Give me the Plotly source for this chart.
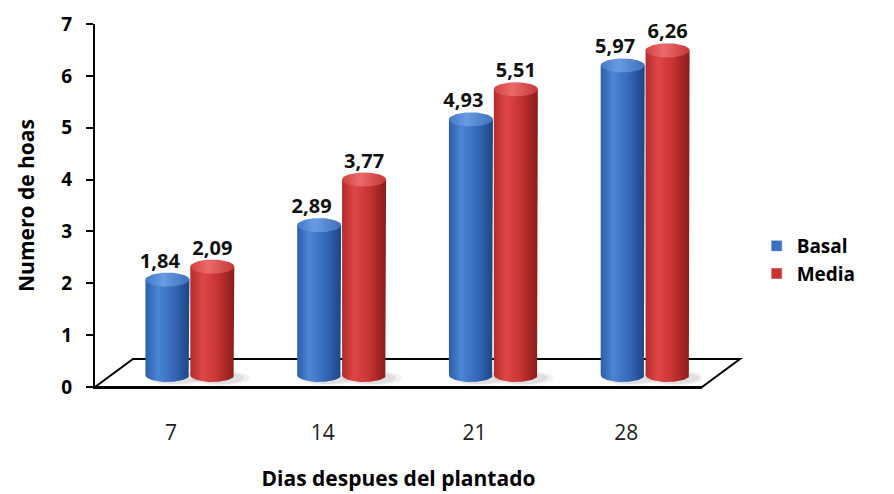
import numpy as np
import plotly.graph_objects as go

# Leaf count per sampling day, for two planting positions
dias = ["7", "14", "21", "28"]
basal = [1.84, 2.89, 4.93, 5.97]
media = [2.09, 3.77, 5.51, 6.26]

series = [
    ("Basal", basal, -1,
     [[0, "#2d5da9"], [0.28, "#4b86d6"], [0.6, "#386dbd"], [1, "#1d4584"]],
     [[0, "#4479c8"], [0.4, "#6a9ce2"], [1, "#3e70bd"]], "#3a6fc2"),
    ("Media", media, 1,
     [[0, "#b32b2b"], [0.28, "#df4747"], [0.6, "#c93434"], [1, "#8b1b1b"]],
     [[0, "#d44040"], [0.4, "#ec6a6a"], [1, "#c63838"]], "#c83333"),
]

FONT = "Open Sans"

# Page / plot-area geometry (pixels)
W, H = 894, 494
L, R, T, B = 95, 192, 24, 107
PW, PH = W - L - R, H - T - B
YMAX = 7
px_x = PW / len(dias)          # pixels per category unit
px_y = PH / YMAX               # pixels per value unit

# Cylinders sit at mid-depth of the floor: overlay axes shifted right/up
DX, DY = 19 / px_x, 12 / px_y
RX, RY = 22 / px_x, 7 / px_y   # cylinder half-width and ellipse half-height
GAP = 0.148                    # offset of each cylinder from the pair centre

fig = go.Figure()
t = np.linspace(0, 2 * np.pi, 73)
half = np.linspace(0, np.pi, 37)

# soft contact shadows on the floor
for name, vals, side, *_ in series:
    for i, v in enumerate(vals):
        xc = i + side * GAP + 8 / px_x
        for k, a in ((1.35, 0.05), (1.1, 0.07)):
            fig.add_trace(go.Scatter(
                x=list(xc + k * RX * np.cos(t)),
                y=list(-3 / px_y + k * RY * 0.8 * np.sin(t)),
                xaxis="x2", yaxis="y2", mode="lines", line=dict(width=0),
                fill="toself", fillcolor=f"rgba(0,0,0,{a})",
                hoverinfo="skip", showlegend=False))

for name, vals, side, body_cs, top_cs, key in series:
    for i, v in enumerate(vals):
        xc = i + side * GAP
        # body: two sides plus the front half of the base ellipse
        bx = [xc - RX, xc - RX, xc + RX, xc + RX] + list(xc + RX * np.cos(half))
        by = [0, v, v, 0] + list(-RY * np.sin(half))
        fig.add_trace(go.Scatter(
            x=bx, y=by, xaxis="x2", yaxis="y2", mode="lines",
            line=dict(width=0), fill="toself",
            fillgradient=dict(type="horizontal", colorscale=body_cs),
            hoverinfo="skip", showlegend=False))
        # lid
        fig.add_trace(go.Scatter(
            x=list(xc + RX * np.cos(t)), y=list(v + RY * np.sin(t)),
            xaxis="x2", yaxis="y2", mode="lines", line=dict(width=0),
            fill="toself",
            fillgradient=dict(type="horizontal", colorscale=top_cs),
            hoverinfo="skip", showlegend=False))
    # value labels
    fig.add_trace(go.Scatter(
        x=[i + side * GAP + (-0.05 if side < 0 else 0.0) for i in range(len(vals))],
        y=[v + RY for v in vals], xaxis="x2", yaxis="y2", mode="text",
        text=[f"{v:.2f}".replace(".", ",") for v in vals],
        textposition="top center",
        textfont=dict(family=FONT, size=20, color="#111111", weight="bold"),
        hoverinfo="skip", showlegend=False))

# legend keys
for name, vals, side, body_cs, top_cs, key in series:
    fig.add_trace(go.Scatter(
        x=[None], y=[None], mode="markers", name=name,
        marker=dict(symbol="square", size=11, color=key,
                    line=dict(width=0.5, color="#ffffff"))))

# floor of the 3-D plot area, in paper units so it can reach past the axes
x0, x1 = -0.5, len(dias) - 0.5
fx, fy = 38 / PW, 28 / PH
fig.add_shape(type="path", xref="paper", yref="paper", layer="below",
              path=f"M0,0 L{fx},{fy} L{1 + fx},{fy} L1,0 Z",
              line=dict(color="black", width=2), fillcolor="white")

fig.update_layout(
    width=W, height=H, margin=dict(l=L, r=R, t=T, b=B, autoexpand=False),
    paper_bgcolor="white", plot_bgcolor="rgba(0,0,0,0)",
    font=dict(family=FONT, color="black"),
    xaxis=dict(range=[x0, x1], tickvals=list(range(len(dias))), ticktext=dias,
               automargin=False,
               showgrid=False, zeroline=False, showline=True,
               linecolor="black", linewidth=2, ticks="",
               ticklabelstandoff=26,
               tickfont=dict(size=21, family=FONT, color="#222222"),
               title=dict(text="Dias despues del plantado", standoff=26,
                          font=dict(size=21, family=FONT, weight="bold"))),
    yaxis=dict(range=[0, YMAX], tickvals=list(range(YMAX + 1)),
               automargin=False,
               showgrid=False, zeroline=False, showline=True,
               linecolor="black", linewidth=2, ticks="outside", ticklen=7,
               tickwidth=2, tickcolor="black", ticklabelstandoff=10,
               tickfont=dict(size=19, family=FONT, weight="bold"),
               title=dict(text="Numero de hoas", standoff=21,
                          font=dict(size=21, family=FONT, weight="bold"))),
    xaxis2=dict(overlaying="x", range=[x0 - DX, x1 - DX], visible=False),
    yaxis2=dict(overlaying="y", range=[-DY, YMAX - DY], visible=False),
    legend=dict(x=1.09, y=0.35, xanchor="left", yanchor="middle",
                font=dict(size=19, family=FONT, weight="bold"),
                itemwidth=30, bgcolor="rgba(0,0,0,0)"),
)

fig.write_html("out.html")
